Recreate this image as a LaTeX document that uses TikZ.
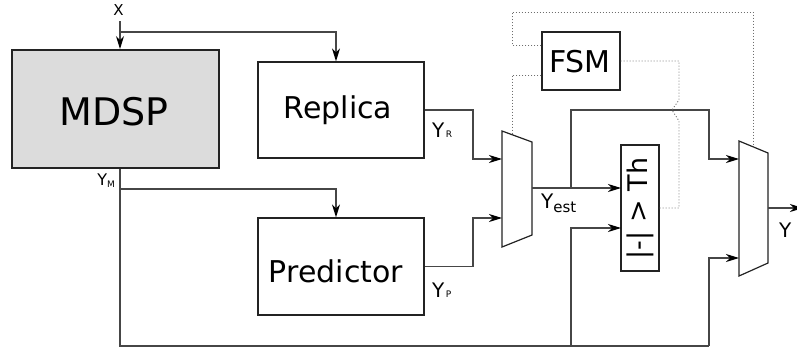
\documentclass[tikz,border=0pt]{standalone}
\usepackage{fontspec}
\setmainfont{DejaVu Sans}
\usetikzlibrary{arrows.meta}
\definecolor{wirec}{RGB}{70,70,70}
\definecolor{boxc}{RGB}{35,35,35}
\definecolor{mdspfill}{RGB}{220,220,220}
\definecolor{dotc}{RGB}{110,110,110}
\newcommand{\fs}[1]{\fontsize{#1}{#1}\selectfont}
\tikzset{
  wire/.style={draw=wirec, line width=1.1pt},
  arr/.style={wire, -{Stealth[length=13pt,width=8pt,inset=4pt,black]}},
  blk/.style={draw=boxc, line width=1.3pt, rectangle, inner sep=0pt},
  ctl/.style={draw=dotc, line width=0.9pt, dash pattern=on 1pt off 2pt},
  mux/.style={draw=boxc, line width=1.2pt, line join=miter},
  txt/.style={inner sep=0pt, text=black},
}
\begin{document}
\begin{tikzpicture}[x=1pt,y=-1pt]
\useasboundingbox (0,0) rectangle (797,349);

% blocks
\node[blk, line width=1.9pt, fill=mdspfill, minimum width=207pt, minimum height=118pt] (mdsp) at (115.5,109) {};
\node[txt, anchor=base, font=\fs{38}] (mdspT) at (114,125) {MDSP};
\node[blk, minimum width=166pt, minimum height=96pt] (replica) at (341,110) {};
\node[txt, anchor=base, font=\fs{30}] (replicaT) at (338,118) {Replica};
\node[blk, minimum width=166pt, minimum height=97pt] (predictor) at (341,266.5) {};
\node[txt, anchor=base, font=\fs{30}] (predictorT) at (336,282) {Predictor};
\node[blk, minimum width=78pt, minimum height=58pt] (fsm) at (581,61) {};
\node[txt, anchor=base, font=\fs{30}] (fsmT) at (580,72.7) {FSM};
\node[blk, rotate=90, minimum width=126pt, minimum height=38pt] (cmp) at (640,208) {};
\node[txt, rotate=90, anchor=base, font=\fs{27}] (cmpT) at (647,208.5) {|-| > Th};

% multiplexers
\draw[mux] (502,131) coordinate (m1tl) -- (532,142) -- (532,235) -- (502,247) -- cycle;
\draw[mux] (739,141) -- (768,153) -- (768,263) -- (739,276) -- cycle;
\coordinate (m1in1) at (502,159);
\coordinate (m1in2) at (502,218);
\coordinate (m1out) at (532,188);
\coordinate (m1sel) at (512,135);
\coordinate (m2in1) at (739,159);
\coordinate (m2in2) at (739,258);
\coordinate (m2out) at (768,208);
\coordinate (m2sel) at (753,147);

% junction coordinates
\coordinate (xin) at (120,21);
\coordinate (xsplit) at (120,32);
\coordinate (ymsplit) at (120,189);
\coordinate (bl) at (120,346);
\coordinate (bj) at (571,346);
\coordinate (br) at (709,346);
\coordinate (jr) at (473,159);
\coordinate (jp) at (473,218);
\coordinate (esplit) at (571,188);
\coordinate (tj) at (709,110);
\coordinate (cmpin1) at (621,188);
\coordinate (cmpin2) at (621,228);
\coordinate (yout) at (803,208);
\coordinate (d1) at (512,12);
\coordinate (f1) at (679,100);
\coordinate (f2) at (672,110);
\coordinate (f3) at (679,121);

% labels
\node[txt, font=\fs{15}] (xl) at (118.5,10) {X};
\node[txt, anchor=base east, font=\fs{16}] (yml) at (115,185) {Y\raisebox{-2pt}{\fs{9}M}};
\node[txt, anchor=base west, font=\fs{20}] (yrl) at (432,137) {Y\hspace{1.5pt}\fs{9}R};
\node[txt, anchor=base west, font=\fs{20}] (ypl) at (432,297) {Y\hspace{1.5pt}\fs{9}P};
\node[txt, anchor=base west, font=\fs{20}] (yestl) at (541,208) {Y\raisebox{-4.5pt}{\fs{15}est}};
\node[txt, anchor=base west, font=\fs{20}] (yl) at (779,237) {Y};

% signal wires
\draw[arr] (xin) -- (xin |- mdsp.north);
\draw[arr] (xsplit) -| ([xshift=-5pt]replica.north);
\draw[wire] ([xshift=4.5pt]mdsp.south) -- (bl) -- (br);
\draw[arr] (br) |- (m2in2);
\draw[arr] (ymsplit) -| ([xshift=-5pt]predictor.north);
\draw[arr] (bj) |- (cmpin2);
\draw[arr] (replica.east) -| (jr) -- (m1in1);
\draw[arr] (predictor.east) -| (jp) -- (m1in2);
\draw[arr] (m1out) -- (cmpin1);
\draw[arr] (esplit) |- (tj) |- (m2in1);
\draw[arr] (m2out) -- (yout);

% control (dotted)
\draw[ctl] ([yshift=16pt]fsm.west) -| (d1) -| (m2sel);
\draw[ctl] ([yshift=-14pt]fsm.west) -| (m1sel);
\draw[ctl] (fsm.east) -| (f1) -- (f2) -- (f3) |- (cmp.south);
\end{tikzpicture}
\end{document}
